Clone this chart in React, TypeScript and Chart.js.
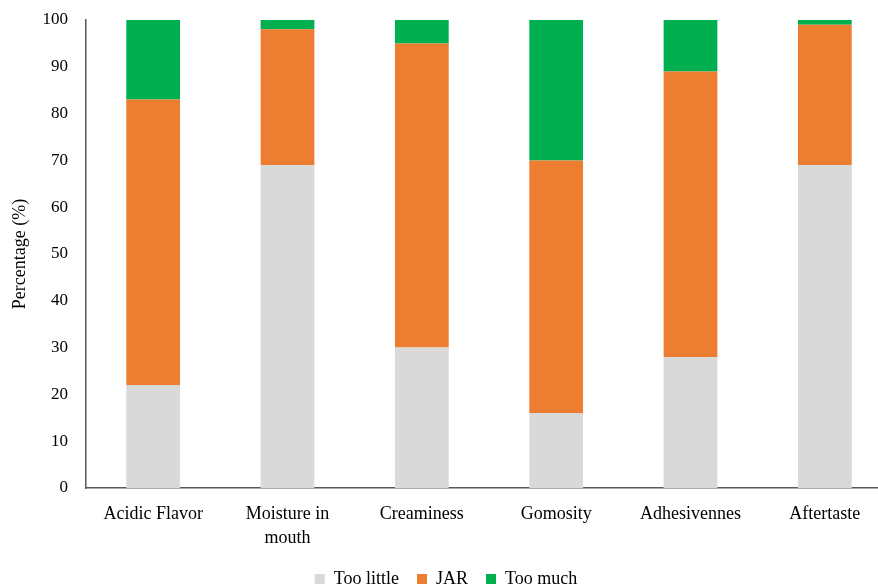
import React, { useEffect, useRef } from "react";
import { Chart, registerables } from "chart.js";

Chart.register(...registerables);

const categories: (string | string[])[] = [
  "Acidic Flavor",
  ["Moisture in", "mouth"],
  "Creaminess",
  "Gomosity",
  "Adhesivennes",
  "Aftertaste",
];
const tooLittle = [22, 69, 30, 16, 28, 69];
const jar = [61, 29, 65, 54, 61, 30];
const tooMuch = [17, 2, 5, 30, 11, 1];
const yTicks = [0, 10, 20, 30, 40, 50, 60, 70, 80, 90, 100];

const FONT = "'Liberation Serif', 'Times New Roman', serif";

export default function App() {
  const ref = useRef<HTMLCanvasElement | null>(null);
  useEffect(() => {
    if (!ref.current) return;
    const chart = new Chart(ref.current, {
      type: "bar",
      data: {
        labels: categories,
        datasets: [
          { label: "Too little", data: tooLittle, backgroundColor: "#D9D9D9" },
          { label: "JAR", data: jar, backgroundColor: "#ED7D31" },
          { label: "Too much", data: tooMuch, backgroundColor: "#00B050" },
        ],
      },
      options: {
        animation: false,
        responsive: false,
        maintainAspectRatio: false,
        layout: { padding: { left: 0, right: 8, top: 20, bottom: 0 } },
        datasets: { bar: { barPercentage: 0.4, categoryPercentage: 1 } },
        plugins: {
          tooltip: { enabled: false },
          legend: {
            position: "bottom",
            labels: {
              font: { family: FONT, size: 18 },
              color: "#000",
              boxWidth: 10,
              boxHeight: 10,
              padding: 18,
            },
          },
        },
        scales: {
          x: {
            stacked: true,
            grid: { display: false, drawTicks: false },
            border: { display: true, color: "#595959", width: 1.5 },
            ticks: {
              color: "#000",
              font: { family: FONT, size: 18, lineHeight: 1.35 },
              padding: 14,
              maxRotation: 0,
              autoSkip: false,
            },
            afterFit: (s: any) => {
              s.height = 64;
            },
          },
          y: {
            stacked: true,
            min: 0,
            max: 100,
            afterBuildTicks: (s: any) => {
              s.ticks = yTicks.map((v) => ({ value: v }));
            },
            grid: { display: false, drawTicks: false },
            border: { display: true, color: "#595959", width: 1.5 },
            ticks: {
              color: "#000",
              font: { family: FONT, size: 17 },
              padding: 18,
            },
            title: {
              display: true,
              text: "Percentage (%)",
              color: "#000",
              font: { family: FONT, size: 18 },
              padding: { top: 9, bottom: 0 },
            },
            afterFit: (s: any) => {
              s.width = 86;
              s.paddingTop = 0;
              s.paddingBottom = 0;
            },
          },
        },
      },
    });
    return () => chart.destroy();
  }, []);
  return (
    <div style={{ position: "fixed", left: 0, top: 0, width: 900, height: 598 }}>
      <canvas ref={ref} width={900} height={598} style={{ display: "block" }} />
    </div>
  );
}
